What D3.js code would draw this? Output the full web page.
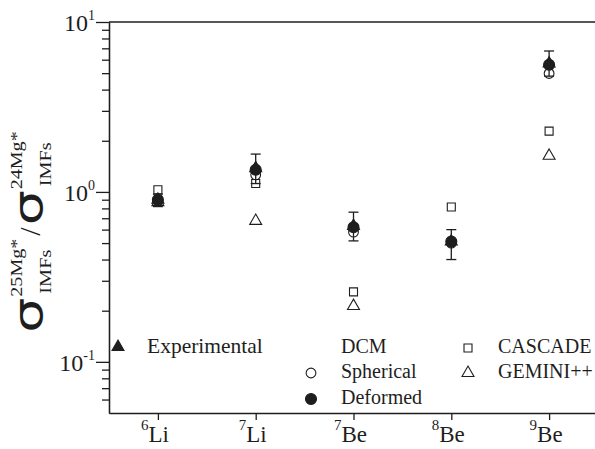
<!DOCTYPE html>
<html>
<head>
<meta charset="utf-8">
<script src="https://cdn.jsdelivr.net/npm/d3@7"></script>
<style>
  body { margin: 0; background: #fff; }
  svg { display: block; font-family: "Liberation Serif", "Times New Roman", serif; }
</style>
</head>
<body>
<div id="chart"></div>
<script>
// data
const massNumbers  = ["6", "7", "7", "8", "9"];
const elements     = ["Li", "Li", "Be", "Be", "Be"];
const experimental = [0.90, 1.38, 0.63, 0.51, 5.70];
const expLow       = [0.82, 1.12, 0.515, 0.40, 4.80];
const expHigh      = [0.97, 1.67, 0.76, 0.60, 6.75];
const spherical    = [0.88, 1.26, 0.58, 0.50, 4.98];
const deformed     = [0.90, 1.35, 0.62, 0.51, 5.60];
const cascade      = [1.03, 1.12, 0.258, 0.816, 2.28];
const gemini       = [0.87, 0.675, 0.213, null, 1.63];
const yMajorTicks  = [0.1, 1, 10];
const yMajorExp    = ["-1", "0", "1"];
const yMinorTicks  = [0.06, 0.07, 0.08, 0.09, 0.2, 0.3, 0.4, 0.5, 0.6, 0.7, 0.8, 0.9, 2, 3, 4, 5, 6, 7, 8, 9];

const W = 595, H = 449;
const plotL = 109, plotR = 598, plotT = 22, plotB = 413;
const ink = "#1e1e1e";

const svg = d3.select("#chart").append("svg")
  .attr("width", W).attr("height", H);

const x = d3.scaleLinear().domain([0.5, 5.5]).range([plotL, plotR]);
const y = d3.scaleLog().domain([0.05, 10]).range([plotB, plotT]);
const idx = massNumbers.map((d, i) => i + 1);

// axes
svg.append("g")
  .attr("transform", `translate(${plotL},0)`)
  .call(d3.axisLeft(y).tickValues(yMinorTicks).tickSize(7).tickSizeOuter(0).tickFormat(""))
  .call(g => g.selectAll("line, path").attr("stroke", ink).attr("stroke-width", 1.3));

svg.append("g")
  .attr("transform", `translate(${plotL},0)`)
  .call(d3.axisLeft(y).tickValues(yMajorTicks).tickSize(13).tickSizeOuter(0).tickFormat(""))
  .call(g => g.selectAll("line, path").attr("stroke", ink).attr("stroke-width", 1.3));

svg.append("g")
  .attr("transform", `translate(0,${plotB})`)
  .call(d3.axisBottom(x).tickValues(idx).tickSize(7).tickSizeOuter(0).tickFormat(""))
  .call(g => g.selectAll("line, path").attr("stroke", ink).attr("stroke-width", 1.3));

// top frame line
svg.append("line")
  .attr("x1", plotL).attr("x2", W).attr("y1", y(10)).attr("y2", y(10))
  .attr("stroke", ink).attr("stroke-width", 1.3);

// y tick labels 10^n
yMajorTicks.forEach((v, i) => {
  const t = svg.append("text")
    .attr("x", 95).attr("y", y(v) + 9)
    .attr("text-anchor", "end")
    .attr("fill", ink)
    .style("font-size", "24px");
  t.append("tspan").text("10");
  t.append("tspan").attr("dy", -11).style("font-size", "14px").text(yMajorExp[i]);
});

// x tick labels (superscript mass number)
idx.forEach((v, i) => {
  const t = svg.append("text")
    .attr("x", x(v) - 3).attr("y", 442)
    .attr("text-anchor", "middle")
    .attr("fill", ink)
    .style("font-size", "23px");
  t.append("tspan").attr("dy", -12).style("font-size", "15px").text(massNumbers[i]);
  t.append("tspan").attr("dy", 12).text(elements[i]);
});

// y axis title, rotated
const title = svg.append("g").attr("transform", "translate(42,232) rotate(-90)");
function addSigma(g, x0, sup, sub) {
  const w = 35;
  g.append("text").attr("x", x0).attr("y", 0).attr("fill", ink)
    .attr("textLength", w).attr("lengthAdjust", "spacingAndGlyphs")
    .style("font-size", "40px").style("font-family", "'DejaVu Sans', sans-serif").text("σ");
  g.append("text").attr("x", x0 + w + 1).attr("y", -20).attr("fill", ink)
    .attr("textLength", 58).attr("lengthAdjust", "spacingAndGlyphs")
    .style("font-size", "17px").text(sup);
  g.append("text").attr("x", x0 + w + 4).attr("y", 9).attr("fill", ink)
    .attr("textLength", 44).attr("lengthAdjust", "spacingAndGlyphs")
    .style("font-size", "17px").text(sub);
  return x0 + w + 1 + 58;
}
let cx = addSigma(title, 0, "25Mg*", "IMFs");
const slash = title.append("text").attr("x", cx + 3).attr("y", -2).attr("fill", ink)
  .style("font-size", "30px").text("/");
cx += 3 + slash.node().getComputedTextLength() + 2;
cx = addSigma(title, cx, "24Mg*", "IMFs");
title.selectAll("text").attr("transform", `translate(${-cx / 2},0)`);

// symbols
const tri = d3.symbol().type(d3.symbolTriangle).size(62);
const triOpen = d3.symbol().type(d3.symbolTriangle).size(62);
const sq = d3.symbol().type(d3.symbolSquare).size(64);
const circFilled = d3.symbol().type(d3.symbolCircle).size(95);
const circOpen = d3.symbol().type(d3.symbolCircle).size(75);

const plot = svg.append("g");

function series(vals, path, fill) {
  plot.append("g").selectAll("path")
    .data(vals.map((v, i) => ({ v, i })).filter(d => d.v != null))
    .join("path")
    .attr("d", path)
    .attr("transform", d => `translate(${x(d.i + 1)},${y(d.v)})`)
    .attr("fill", fill ? ink : "none")
    .attr("stroke", ink)
    .attr("stroke-width", 1.1);
}

series(cascade, sq, false);
series(gemini, triOpen, false);
series(spherical, circOpen, false);

// error bars
const eb = plot.append("g").attr("stroke", ink).attr("stroke-width", 1.3);
experimental.forEach((v, i) => {
  const cxp = x(i + 1);
  eb.append("line").attr("x1", cxp).attr("x2", cxp).attr("y1", y(expLow[i])).attr("y2", y(expHigh[i]));
  eb.append("line").attr("x1", cxp - 5).attr("x2", cxp + 5).attr("y1", y(expLow[i])).attr("y2", y(expLow[i]));
  eb.append("line").attr("x1", cxp - 5).attr("x2", cxp + 5).attr("y1", y(expHigh[i])).attr("y2", y(expHigh[i]));
});

series(deformed, circFilled, true);
series(experimental, tri, true);

// legend
const leg = svg.append("g").attr("fill", ink).style("font-size", "20px");
function legSym(path, fill, lx, ly) {
  leg.append("path").attr("d", path).attr("transform", `translate(${lx},${ly})`)
    .attr("fill", fill ? ink : "none").attr("stroke", ink).attr("stroke-width", 1.1);
}
legSym(tri(), true, 118, 347);
leg.append("text").attr("x", 147).attr("y", 353).style("font-size", "21.5px").text("Experimental");
leg.append("text").attr("x", 341).attr("y", 353).text("DCM");
legSym(circOpen(), false, 311, 373);
leg.append("text").attr("x", 341).attr("y", 378).text("Spherical");
legSym(circFilled(), true, 311, 399);
leg.append("text").attr("x", 341).attr("y", 404).text("Deformed");
legSym(sq(), false, 468, 348);
leg.append("text").attr("x", 498).attr("y", 353).text("CASCADE");
legSym(triOpen(), false, 468, 373);
leg.append("text").attr("x", 498).attr("y", 378).text("GEMINI++");
</script>
</body>
</html>
